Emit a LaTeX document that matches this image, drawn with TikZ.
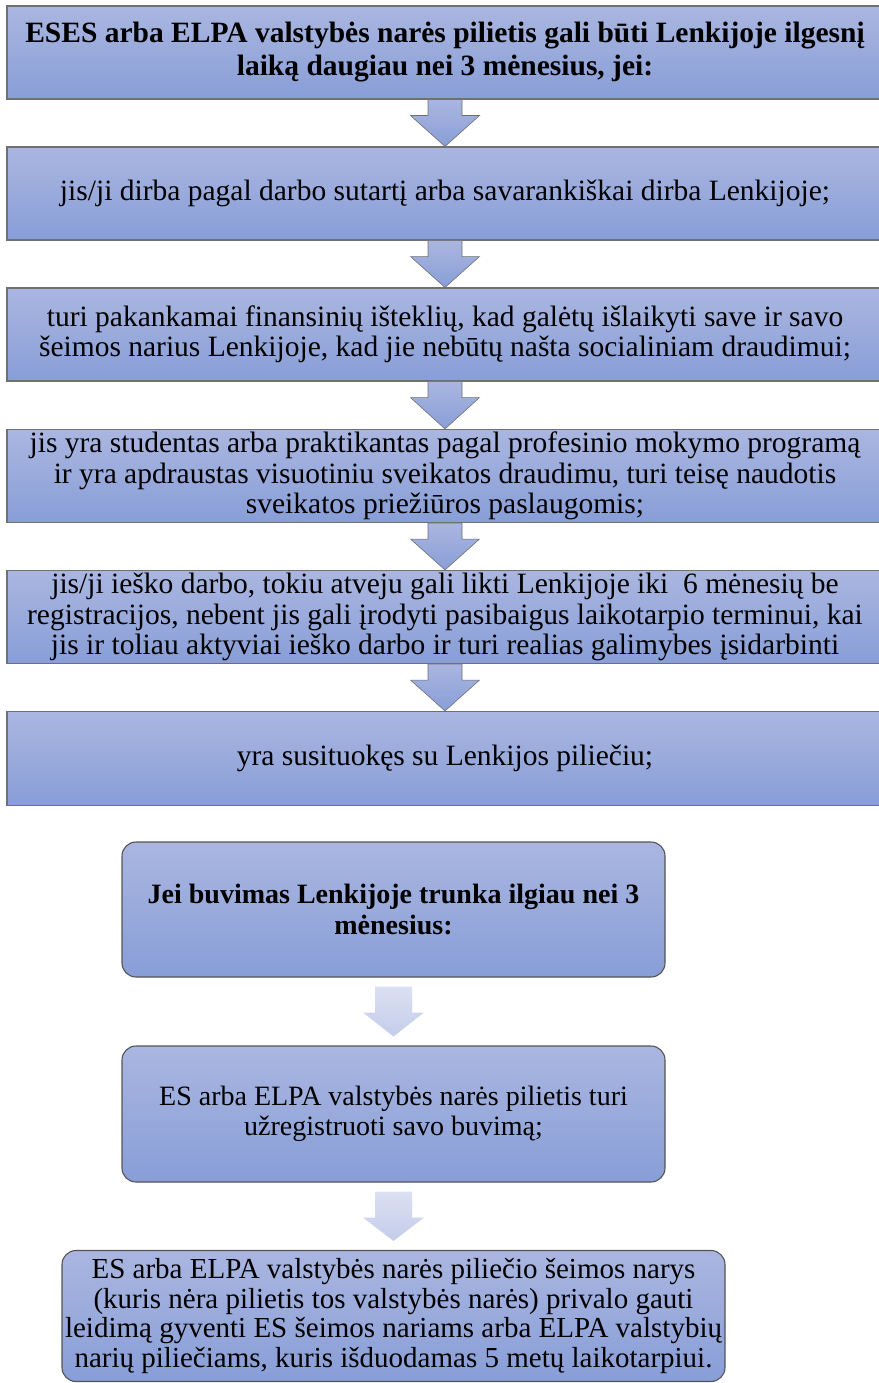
\documentclass[tikz,border=0pt]{standalone}
\usepackage{fontspec}
\setmainfont{Liberation Serif}
\usetikzlibrary{calc}
\definecolor{boxtop}{RGB}{170,182,224}
\definecolor{boxbot}{RGB}{136,158,215}
\definecolor{edgegray}{RGB}{112,112,112}
\definecolor{roundedge}{RGB}{85,85,85}
\definecolor{lighttop}{RGB}{219,224,242}
\definecolor{lightbot}{RGB}{196,204,234}
\newcommand\darkarrow[2]{%
  \path[darkarr] ($(#1.south)+(-17,0)$) -- ($(#1.south)+(17,0)$) -- ($(#1.south)+(17,16)$)
    -- ($(#1.south)+(34.5,16)$) -- (#2.north) -- ($(#1.south)+(-34.5,16)$)
    -- ($(#1.south)+(-17,16)$) -- cycle;}
\newcommand\lightarrow[2]{%
  \path[lightarr] ($(#1.south)+(-18.5,9)$) -- ($(#1.south)+(18.5,9)$) -- ($(#1.south)+(18.5,35)$)
    -- ($(#1.south)+(30.5,35)$) -- ($(#2.north)+(0,-9)$) -- ($(#1.south)+(-30.5,35)$)
    -- ($(#1.south)+(-18.5,35)$) -- cycle;}
\begin{document}
\begin{tikzpicture}[x=1pt,y=-1pt,
  rectbox/.style={draw=edgegray, line width=1.1pt, top color=boxtop, bottom color=boxbot,
    minimum width=876pt, minimum height=93pt, align=center, inner sep=0pt,
    font=\fontsize{29.5}{30.5}\selectfont},
  roundbox/.style={draw=roundedge, line width=1.1pt, rounded corners=14pt, top color=boxtop,
    bottom color=boxbot, align=center, inner sep=0pt, font=\fontsize{28}{30.5}\selectfont},
  darkarr/.style={draw=edgegray, line width=0.6pt, top color=boxtop, bottom color=boxbot},
  lightarr/.style={top color=lighttop, bottom color=lightbot}]
\useasboundingbox (0,0) rectangle (878,1383);
\fill[white] (0,0) rectangle (878,1383);
\node[rectbox, font=\fontsize{29.5}{33}\selectfont\bfseries] (b1) at (445,52.5)
  {ESES arba ELPA valstybės narės pilietis gali būti Lenkijoje ilgesnį\\laiką daugiau nei 3 mėnesius, jei:};
\node[rectbox] (b2) at (445,193.5)
  {jis/ji dirba pagal darbo sutartį arba savarankiškai dirba Lenkijoje;};
\node[rectbox] (b3) at (445,334.5)
  {turi pakankamai finansinių išteklių, kad galėtų išlaikyti save ir savo\\šeimos narius Lenkijoje, kad jie nebūtų našta socialiniam draudimui;};
\node[rectbox] (b4) at (445,476)
  {jis yra studentas arba praktikantas pagal profesinio mokymo programą\\ir yra apdraustas visuotiniu sveikatos draudimu, turi teisę naudotis\\sveikatos priežiūros paslaugomis;};
\node[rectbox] (b5) at (445,617)
  {jis/ji ieško darbo, tokiu atveju gali likti Lenkijoje iki\ \ 6 mėnesių be\\registracijos, nebent jis gali įrodyti pasibaigus laikotarpio terminui, kai\\jis ir toliau aktyviai ieško darbo ir turi realias galimybes įsidarbinti};
\node[rectbox, minimum height=94pt] (b6) at (445,758.5)
  {yra susituokęs su Lenkijos piliečiu;};
\darkarrow{b1}{b2}
\darkarrow{b2}{b3}
\darkarrow{b3}{b4}
\darkarrow{b4}{b5}
\darkarrow{b5}{b6}
\node[roundbox, minimum width=543pt, minimum height=135pt, font=\fontsize{28}{30.5}\selectfont\bfseries] (r1) at (393.5,909.5)
  {Jei buvimas Lenkijoje trunka ilgiau nei 3\\mėnesius:};
\node[roundbox, minimum width=543pt, minimum height=136pt] (r2) at (393.5,1114)
  {ES arba ELPA valstybės narės pilietis turi\\užregistruoti savo buvimą;};
\node[roundbox, minimum width=663pt, minimum height=131pt, font=\fontsize{29}{29.5}\selectfont] (r3) at (393.5,1316)
  {ES arba ELPA valstybės narės piliečio šeimos narys\\(kuris nėra pilietis tos valstybės narės) privalo gauti\\leidimą gyventi ES šeimos nariams arba ELPA valstybių\\narių piliečiams, kuris išduodamas 5 metų laikotarpiui.};
\lightarrow{r1}{r2}
\lightarrow{r2}{r3}
\end{tikzpicture}
\end{document}
